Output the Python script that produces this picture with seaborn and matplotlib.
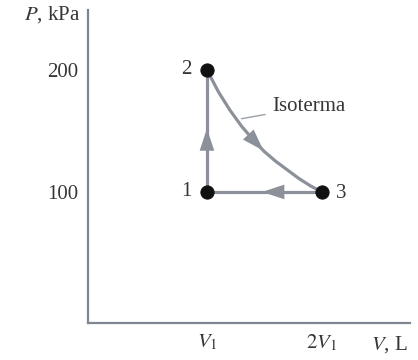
import numpy as np
import matplotlib
matplotlib.use("Agg")
import matplotlib.pyplot as plt
import seaborn as sns
import pandas as pd

# data (V in units of V1, P in kPa)
state_names = ["1", "2", "3"]
state_V = [1.0, 1.0, 2.0]
state_P = [100, 200, 100]
iso_V = [1.0, 1.1, 1.2, 1.3, 1.4, 1.5, 1.6, 1.7, 1.8, 1.9, 2.0]
iso_P = [200, 182, 167, 154, 143, 133, 125, 118, 111, 105, 100]
x_ticks = [1, 2]
x_tick_labels = ["$V_1$", "$2V_1$"]
y_ticks = [100, 200]
y_tick_labels = ["100", "200"]

sns.set_style("white")
plt.rcParams["font.family"] = ["Liberation Serif", "DejaVu Serif"]
plt.rcParams["mathtext.fontset"] = "stix"

line_c = "#8c9099"
text_c = "#363636"

fig = plt.figure(figsize=(4.18, 3.6), dpi=100)
ax = fig.add_axes([0.2105, 0.1028, 0.770, 0.869])

states = pd.DataFrame({"V": state_V, "P": state_P, "name": state_names})
iso = pd.DataFrame({"V": iso_V, "P": iso_P})

# paths 1->2 (vertical), 3->1 (horizontal), isotherm 2->3
ax.plot([state_V[0], state_V[1]], [state_P[0], state_P[1]], color=line_c, lw=2.3, zorder=2)
ax.plot([state_V[2], state_V[0]], [state_P[2], state_P[0]], color=line_c, lw=2.3, zorder=2)
sns.lineplot(data=iso, x="V", y="P", ax=ax, color=line_c, lw=2.3, sort=False, zorder=2)


def arrow_on(x0, y0, x1, y1, f):
    # small filled arrowhead at fraction f along the segment
    xm = x0 + (x1 - x0) * f
    ym = y0 + (y1 - y0) * f
    dx = (x1 - x0) * 0.02
    dy = (y1 - y0) * 0.02
    ax.annotate("", xy=(xm + dx, ym + dy), xytext=(xm - dx, ym - dy),
                arrowprops=dict(arrowstyle="-|>,head_length=1.0,head_width=0.33",
                                color=line_c, lw=0, shrinkA=0, shrinkB=0,
                                mutation_scale=16), zorder=3)


arrow_on(state_V[0], state_P[0], state_V[1], state_P[1], 0.50)
arrow_on(state_V[2], state_P[2], state_V[0], state_P[0], 0.50)
k = 4
arrow_on(iso_V[k], iso_P[k], iso_V[k + 1], iso_P[k + 1], 0.9)

sns.scatterplot(data=states, x="V", y="P", ax=ax, color="#111111", s=90,
                edgecolor="#111111", zorder=4, legend=False)

# state labels
ax.annotate("1", (state_V[0], state_P[0]), xytext=(-15, 0), textcoords="offset points",
            ha="center", va="center", fontsize=15, color=text_c)
ax.annotate("2", (state_V[1], state_P[1]), xytext=(-15, 0), textcoords="offset points",
            ha="center", va="center", fontsize=15, color=text_c)
ax.annotate("3", (state_V[2], state_P[2]), xytext=(14, -1), textcoords="offset points",
            ha="center", va="center", fontsize=15, color=text_c)

# isotherm label with leader line
ax.annotate("Isoterma", xy=(1.30, 160), xytext=(1.57, 170), fontsize=15, color=text_c,
            ha="left", va="center",
            arrowprops=dict(arrowstyle="-", color="#9aa0a8", lw=1, shrinkA=3, shrinkB=0))

ax.set_xlim(-0.035, 2.765)
ax.set_ylim(-7.4, 249)
ax.set_xticks(x_ticks)
ax.set_xticklabels(x_tick_labels)
ax.set_yticks(y_ticks)
ax.set_yticklabels(y_tick_labels)
ax.tick_params(length=0, labelsize=15, colors=text_c, pad=7)
ax.tick_params(axis="y", labelsize=15, pad=7)
ax.set_xlabel("")
ax.set_ylabel("")

sns.despine(ax=ax)
for side in ["left", "bottom"]:
    ax.spines[side].set_color("#7f8690")
    ax.spines[side].set_linewidth(1.6)

ax.text(-0.025, 0.985, "$P$, kPa", transform=ax.transAxes, ha="right", va="center",
        fontsize=15, color=text_c)
ax.text(0.935, -0.07, "$V$, L", transform=ax.transAxes, ha="center", va="center",
        fontsize=15, color=text_c)

fig.savefig("out.png", dpi=100)
